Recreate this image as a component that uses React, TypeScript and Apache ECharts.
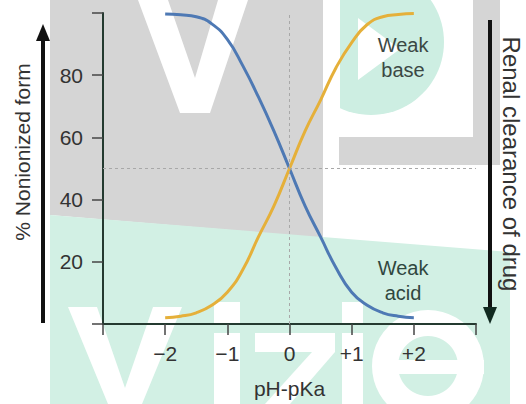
import React, { useEffect, useRef } from "react";
import * as echarts from "echarts";

// ---- data ----
const xValues = [-2, -1.75, -1.5, -1.25, -1, -0.75, -0.5, -0.25, 0, 0.25, 0.5, 0.75, 1, 1.25, 1.5, 1.75, 2];
const weakAcid = [99.7, 99.4, 98.8, 96.5, 91.5, 83, 73, 62, 50, 38, 28, 18, 10.2, 6, 3.6, 2.5, 2];
const weakBase = [2, 2.5, 3.6, 6, 10.2, 17.5, 28, 38, 50, 62, 72, 82.5, 90.5, 96.3, 98.8, 99.5, 99.8];
const xTicks = [-3, -2, -1, 0, 1, 2, 3];
const xTickLabels = ["", "\u22122", "\u22121", "0", "+1", "+2", ""];
const yTicks = [0, 20, 40, 60, 80, 100];
const yTickLabels = ["", "20", "40", "60", "80", ""];

const FONT = "'Liberation Sans', Arial, Helvetica, sans-serif";
const GRAY = "#d5d5d5";
const TEAL = "#d2f0e4";

export default function App() {
  const ref = useRef<HTMLDivElement>(null);

  useEffect(() => {
    if (!ref.current) return;
    const chart = echarts.init(ref.current, undefined, { renderer: "svg" });

    const bg = { silent: true, z: -10 } as any;
    const graphic: any[] = [
      // watermark background
      { ...bg, type: "circle", shape: { cx: 371, cy: 42, r: 73 }, style: { fill: "#cdeee2" } },
      { ...bg, type: "polygon", shape: { points: [[50, 0], [323, 0], [323, 238], [50, 215]] }, style: { fill: GRAY } },
      { ...bg, type: "rect", shape: { x: 323, y: 0, width: 17, height: 137 }, style: { fill: "#fff" } },
      { ...bg, type: "polygon", shape: { points: [[50, 215], [510, 252], [510, 404], [50, 404]] }, style: { fill: TEAL } },
      { ...bg, type: "polygon", shape: { points: [[138, 0], [168, 0], [195, 78], [218, 0], [248, 0], [210, 113], [180, 113]] }, style: { fill: "#fff" } },
      { ...bg, type: "rect", shape: { x: 473, y: 0, width: 27, height: 165 }, style: { fill: GRAY } },
      { ...bg, type: "rect", shape: { x: 339, y: 137, width: 161, height: 28 }, style: { fill: GRAY } },
      { ...bg, type: "polygon", shape: { points: [[358, 18], [358, 80], [400, 49]] }, style: { fill: "#fff" } },
      // "vizie" letters
      { ...bg, type: "polygon", shape: { points: [[68, 307], [97, 307], [125, 388], [153, 307], [182, 307], [142, 404], [108, 404]] }, style: { fill: "#fff" } },
      { ...bg, type: "rect", shape: { x: 214, y: 302, width: 26, height: 22 }, style: { fill: "#fff" } },
      { ...bg, type: "rect", shape: { x: 214, y: 333, width: 26, height: 71 }, style: { fill: "#fff" } },
      { ...bg, type: "rect", shape: { x: 255, y: 333, width: 80, height: 19 }, style: { fill: "#fff" } },
      { ...bg, type: "polygon", shape: { points: [[312, 352], [335, 352], [290, 404], [265, 404]] }, style: { fill: "#fff" } },
      { ...bg, type: "rect", shape: { x: 342, y: 302, width: 21, height: 22 }, style: { fill: "#fff" } },
      { ...bg, type: "rect", shape: { x: 342, y: 333, width: 21, height: 71 }, style: { fill: "#fff" } },
      { ...bg, type: "ring", shape: { cx: 428, cy: 366, r: 56, r0: 30 }, style: { fill: "#fff" } },
      { ...bg, type: "rect", shape: { x: 398, y: 360, width: 86, height: 14 }, style: { fill: "#fff" } },
      // arrows
      { type: "line", z: 50, shape: { x1: 43, y1: 323, x2: 43, y2: 38 }, style: { stroke: "#111", lineWidth: 4 } },
      { type: "polygon", z: 50, shape: { points: [[43, 24], [36, 41], [50, 41]] }, style: { fill: "#111" } },
      { type: "line", z: 50, shape: { x1: 490, y1: 20, x2: 490, y2: 310 }, style: { stroke: "#111", lineWidth: 4 } },
      { type: "polygon", z: 50, shape: { points: [[490, 324], [483, 307], [497, 307]] }, style: { fill: "#112a20" } },
      // side titles
      {
        type: "text", z: 50, x: 22, y: 152, rotation: Math.PI / 2,
        style: { text: "% Nonionized form", font: `21px ${FONT}`, fill: "#333", align: "center", verticalAlign: "middle" },
      },
      {
        type: "text", z: 50, x: 511, y: 164, rotation: -Math.PI / 2,
        style: { text: "Renal clearance of drug", font: `24px ${FONT}`, fill: "#333", align: "center", verticalAlign: "middle" },
      },
      // curve annotations
      {
        type: "text", z: 50, x: 403, y: 57,
        style: { text: "Weak\nbase", font: `20px ${FONT}`, lineHeight: 25, fill: "#3b4844", align: "center", verticalAlign: "middle" },
      },
      {
        type: "text", z: 50, x: 403, y: 280,
        style: { text: "Weak\nacid", font: `20px ${FONT}`, lineHeight: 25, fill: "#30473f", align: "center", verticalAlign: "middle" },
      },
    ];

    chart.setOption({
      animation: false,
      backgroundColor: "#fff",
      grid: { left: 103, right: 50, top: 13, bottom: 78, containLabel: false },
      xAxis: {
        type: "value",
        min: -3,
        max: 3,
        interval: 1,
        name: "pH-pKa",
        nameLocation: "middle",
        nameGap: 54,
        nameTextStyle: { fontSize: 21, fontFamily: FONT, color: "#333" },
        axisLine: { show: true, onZero: false, lineStyle: { color: "#243a30", width: 2 } },
        axisTick: { show: true, length: 11, lineStyle: { color: "#444", width: 1.5 } },
        axisLabel: {
          fontSize: 21, fontFamily: FONT, color: "#333", margin: 19,
          formatter: (v: number) => {
            const i = xTicks.indexOf(v);
            return i >= 0 ? xTickLabels[i] : "";
          },
        },
        splitLine: { show: false },
      },
      yAxis: {
        type: "value",
        min: 0,
        max: 100,
        interval: 20,
        axisLine: { show: true, onZero: false, lineStyle: { color: "#243a30", width: 2 } },
        axisTick: { show: true, length: 11, lineStyle: { color: "#444", width: 1.5 } },
        axisLabel: {
          fontSize: 21, fontFamily: FONT, color: "#333", margin: 20,
          formatter: (v: number) => {
            const i = yTicks.indexOf(v);
            return i >= 0 ? yTickLabels[i] : "";
          },
        },
        splitLine: { show: false },
      },
      series: [
        {
          name: "Weak acid",
          type: "line",
          smooth: true,
          symbol: "none",
          data: xValues.map((x, i) => [x, weakAcid[i]]),
          lineStyle: { color: "#4e79b4", width: 3 },
          markLine: {
            silent: true,
            symbol: ["none", "none"],
            label: { show: false },
            lineStyle: { color: "#a8a8a8", type: [3, 3], width: 1 },
            data: [{ xAxis: 0 }, { yAxis: 50 }],
          },
        },
        {
          name: "Weak base",
          type: "line",
          smooth: true,
          symbol: "none",
          data: xValues.map((x, i) => [x, weakBase[i]]),
          lineStyle: { color: "#e5b03a", width: 3 },
        },
      ],
      graphic,
    });

    return () => chart.dispose();
  }, []);

  return <div ref={ref} style={{ position: "fixed", left: 0, top: 0, width: 526, height: 404 }} />;
}
